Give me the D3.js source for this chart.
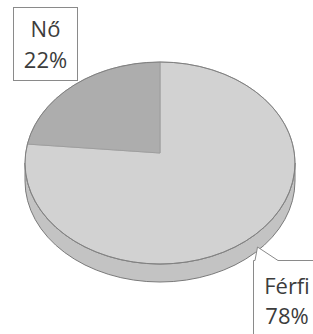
<!DOCTYPE html>
<html>
<head>
<meta charset="utf-8">
<script src="https://cdn.jsdelivr.net/npm/d3@7"></script>
<style>
  body { margin: 0; background: #fff; }
  svg { display: block; }
  text { font-family: "Open Sans", sans-serif; fill: #3c3c3c; }
</style>
</head>
<body>
<div id="chart"></div>
<script>
let width = 313,
    height = 334;

// data
const labels = ["Férfi", "Nő"];
const values = [78, 22];
const colors = ["#d2d2d2", "#adadad"];

// pie geometry (tilted ellipse)
let cx = 160, cy = 163, rx = 135, ry = 101, depth = 18, vertexDy = -10;

let svg = d3.select("#chart")
    .append("svg")
    .attr("width", width)
    .attr("height", height);

let pie = d3.pie().sort(null).value(d => d);
let arcs = pie(values);

const pt = a => [cx + rx * Math.sin(a), cy - ry * Math.cos(a)];

// side (front half of the cylinder)
svg.append("path")
    .attr("d", `M${cx + rx},${cy} A${rx},${ry} 0 0 1 ${cx - rx},${cy}
                L${cx - rx},${cy + depth} A${rx},${ry} 0 0 0 ${cx + rx},${cy + depth} Z`)
    .attr("fill", "#c3c3c3")
    .attr("stroke", "#7a7a7a")
    .attr("stroke-width", 1);

// top slices
svg.selectAll("path.slice")
    .data(arcs)
    .enter()
    .append("path")
    .attr("class", "slice")
    .attr("d", d => {
        let p0 = pt(d.startAngle), p1 = pt(d.endAngle);
        let large = d.endAngle - d.startAngle > Math.PI ? 1 : 0;
        return `M${cx},${cy + vertexDy} L${p0[0]},${p0[1]} A${rx},${ry} 0 ${large} 1 ${p1[0]},${p1[1]} Z`;
    })
    .attr("fill", (d, i) => colors[i])
    .attr("stroke", "#9a9a9a")
    .attr("stroke-width", 0.8);

// outline of top face
svg.append("ellipse")
    .attr("cx", cx).attr("cy", cy)
    .attr("rx", rx).attr("ry", ry)
    .attr("fill", "none")
    .attr("stroke", "#808080")
    .attr("stroke-width", 1);

// label for Nő
let g1 = svg.append("g");
g1.append("rect")
    .attr("x", 13.5).attr("y", 7.5)
    .attr("width", 64).attr("height", 73)
    .attr("fill", "#fff")
    .attr("stroke", "#8a8a8a");
g1.append("text").attr("x", 45.5).attr("y", 37).attr("text-anchor", "middle")
    .attr("font-size", 22).text(labels[1]);
g1.append("text").attr("x", 45.5).attr("y", 68).attr("text-anchor", "middle")
    .attr("font-size", 22).text(values[1] + "%");

// callout label for Férfi
let g2 = svg.append("g");
g2.append("path")
    .attr("d", "M253.5,340 L253.5,260.5 L255,260.5 L257.5,247 L278,260.5 L330,260.5 L330,340")
    .attr("fill", "#fff")
    .attr("stroke", "#8a8a8a");
g2.append("text").attr("x", 287).attr("y", 294).attr("text-anchor", "middle")
    .attr("font-size", 22).text(labels[0]);
g2.append("text").attr("x", 287).attr("y", 324).attr("text-anchor", "middle")
    .attr("font-size", 22).text(values[0] + "%");
</script>
</body>
</html>
